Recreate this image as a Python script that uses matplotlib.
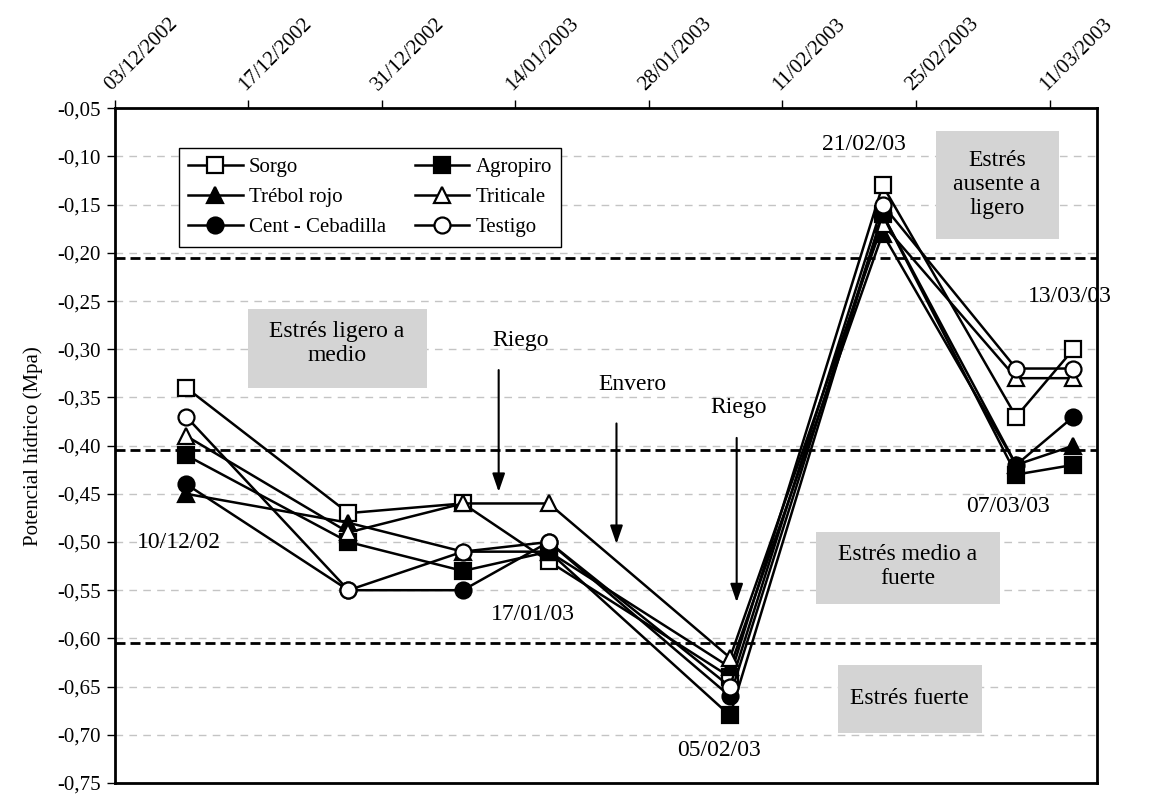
import matplotlib
matplotlib.use("Agg")
import matplotlib.pyplot as plt
import matplotlib.dates as mdates
import numpy as np
import pandas as pd
from matplotlib.patches import Rectangle

plt.rcParams['font.family'] = ['Liberation Serif', 'DejaVu Serif']

# ---------------- data ----------------
fechas = pd.to_datetime(["2002-12-10 12:00", "2002-12-27 12:00", "2003-01-08 12:00",
                         "2003-01-17 12:00", "2003-02-05 12:00", "2003-02-21 12:00",
                         "2003-03-07 12:00", "2003-03-13 12:00"])
sorgo = [-0.34, -0.47, -0.46, -0.52, -0.64, -0.13, -0.37, -0.30]
agropiro = [-0.41, -0.50, -0.53, -0.51, -0.68, -0.16, -0.43, -0.42]
trebol = [-0.45, -0.48, -0.51, -0.51, -0.63, -0.18, -0.42, -0.40]
triticale = [-0.39, -0.49, -0.46, -0.46, -0.62, -0.17, -0.33, -0.33]
cent = [-0.44, -0.55, -0.55, -0.50, -0.66, -0.16, -0.42, -0.37]
testigo = [-0.37, -0.55, -0.51, -0.50, -0.65, -0.15, -0.32, -0.32]

series_names = ["Sorgo", "Agropiro", "Trébol rojo", "Triticale", "Cent - Cebadilla", "Testigo"]
series_values = [sorgo, agropiro, trebol, triticale, cent, testigo]

tick_dates = pd.date_range("2002-12-03", periods=8, freq="14D")
x_min = pd.Timestamp("2002-12-03")
x_max = pd.Timestamp("2003-03-16")
y_ticks = np.round(np.arange(-0.75, -0.049, 0.05), 2)
umbrales = [-0.205, -0.405, -0.605]

# ---------------- figure ----------------
fig = plt.figure(figsize=(11.6, 7.94), dpi=100)
ax = fig.add_axes([0.0989, 0.0139, 0.8470, 0.8497])

styles = {
    "Sorgo": dict(marker='s', mfc='white'),
    "Agropiro": dict(marker='s', mfc='black'),
    "Trébol rojo": dict(marker='^', mfc='black'),
    "Triticale": dict(marker='^', mfc='white'),
    "Cent - Cebadilla": dict(marker='o', mfc='black'),
    "Testigo": dict(marker='o', mfc='white'),
}
handles = {}
for i, (name, vals) in enumerate(zip(series_names, series_values)):
    st = styles[name]
    h, = ax.plot(fechas, vals, color='black', lw=1.8, marker=st['marker'],
                 mfc=st['mfc'], mec='black', mew=1.6, ms=11.5, zorder=5 + i,
                 label=name)
    handles[name] = h

# threshold dashed lines
for u in umbrales:
    ax.axhline(u, color='black', lw=2.0, dashes=[3.6, 1.8], zorder=3)

ax.set_xlim(x_min, x_max)
ax.set_ylim(-0.75, -0.05)

# x axis on top
ax.xaxis.tick_top()
ax.set_xticks(tick_dates)
ax.set_xticklabels([d.strftime("%d/%m/%Y") for d in tick_dates], rotation=45,
                   ha='left', va='bottom', rotation_mode='anchor', fontsize=15)
ax.tick_params(axis='x', which='both', direction='out', length=6, width=1, pad=4,
               bottom=False, top=True)

ax.set_yticks(y_ticks)
ax.set_yticklabels([f"{v:.2f}".replace('.', ',') for v in y_ticks], fontsize=15)
ax.tick_params(axis='y', direction='out', length=6, width=1, pad=4)
ax.set_ylabel("Potencial hídrico (Mpa)", fontsize=15, labelpad=10)

ax.yaxis.grid(True, color='#c4c4c4', lw=1.0, dashes=[5.5, 4.5], zorder=0)
ax.set_axisbelow(True)
for sp in ax.spines.values():
    sp.set_linewidth(2.0)
    sp.set_color('black')


def d(days):
    return mdates.date2num(x_min + pd.Timedelta(days=days))


# grey boxes with text
boxes = [
    (14.0, 32.7, -0.3406, -0.2586, "Estrés ligero a\nmedio", 23.3, -0.294),
    (86.1, 99.0, -0.1857, -0.0736, "Estrés\nausente a\nligero", 92.5, -0.129),
    (73.5, 92.8, -0.5645, -0.4893, "Estrés medio a\nfuerte", 83.1, -0.525),
    (75.8, 90.9, -0.6982, -0.6271, "Estrés fuerte", 83.3, -0.662),
]
for x0, x1, y0, y1, txt, tx, ty in boxes:
    ax.add_patch(Rectangle((d(x0), y0), d(x1) - d(x0), y1 - y0,
                           facecolor='#d4d4d4', edgecolor='none', zorder=2))
    ax.text(d(tx), ty, txt, ha='center', va='center', fontsize=17,
            linespacing=1.2, zorder=4)

# date labels
labels = [
    ("10/12/02", 6.7, -0.50),
    ("17/01/03", 43.8, -0.5755),
    ("05/02/03", 63.3, -0.716),
    ("21/02/03", 78.5, -0.088),
    ("07/03/03", 93.6, -0.463),
    ("13/03/03", 100.1, -0.2456),
]
for txt, tx, ty in labels:
    ax.text(d(tx), ty, txt, ha='center', va='center', fontsize=17, zorder=20)

# arrows and their texts
arrows = [
    ("Riego", 42.5, -0.2906, 40.25, -0.3216, -0.448),
    ("Envero", 54.3, -0.3364, 52.6, -0.377, -0.502),
    ("Riego", 65.4, -0.360, 65.2, -0.392, -0.5625),
]
for txt, tx, ty, ax_x, y_start, y_end in arrows:
    ax.text(d(tx), ty, txt, ha='center', va='center', fontsize=17, zorder=20)
    ax.annotate('', xy=(d(ax_x), y_end), xytext=(d(ax_x), y_start),
                arrowprops=dict(arrowstyle='-|>,head_length=0.55,head_width=0.19',
                                color='black', lw=1.5,
                                mutation_scale=20, shrinkA=0, shrinkB=0),
                zorder=20)

order = ["Sorgo", "Trébol rojo", "Cent - Cebadilla", "Agropiro", "Triticale", "Testigo"]
leg = ax.legend([handles[n] for n in order], order, ncol=2, loc='upper left',
                bbox_to_anchor=(0.0654, 0.9407), borderaxespad=0, fontsize=15,
                frameon=True, fancybox=False, edgecolor='black', framealpha=1,
                handlelength=2.6, handletextpad=0.3, columnspacing=1.4,
                labelspacing=0.5, borderpad=0.45)
leg.get_frame().set_linewidth(1.0)
leg.set_zorder(30)

fig.savefig("out.png", dpi=100)
